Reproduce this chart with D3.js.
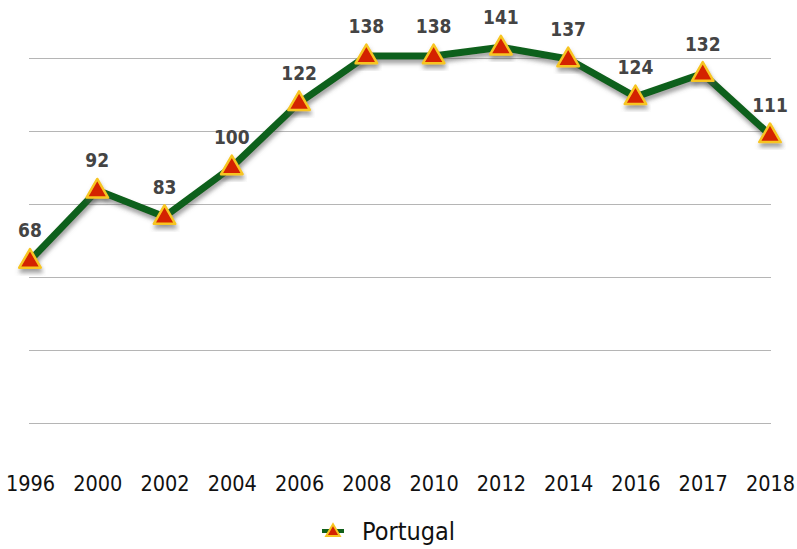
<!DOCTYPE html>
<html>
<head>
<meta charset="utf-8">
<script src="https://cdn.jsdelivr.net/npm/d3@7"></script>
<style>
  body { margin: 0; background: #fff; }
  svg { display: block; }
</style>
</head>
<body>
<script>
// data
const years = ["1996", "2000", "2002", "2004", "2006", "2008", "2010", "2012", "2014", "2016", "2017", "2018"];
const values = [68, 92, 83, 100, 122, 138, 138, 141, 137, 124, 132, 111];
const gridValues = [12.5, 37.5, 62.5, 87.5, 112.5, 137.5];
const seriesName = "Portugal";

const width = 797, height = 549;
const narrow = "'DejaVu Sans Condensed', 'DejaVu Sans', sans-serif";

const svg = d3.select("body").append("svg")
    .attr("width", width)
    .attr("height", height);

// shadow filter
const defs = svg.append("defs");
const f = defs.append("filter").attr("id", "shadow")
    .attr("x", "-20%").attr("y", "-20%").attr("width", "140%").attr("height", "160%");
f.append("feDropShadow")
    .attr("dx", 1).attr("dy", 4)
    .attr("stdDeviation", 2)
    .attr("flood-color", "#555")
    .attr("flood-opacity", 0.55);

// scales
let x = d3.scalePoint()
    .domain(years)
    .range([30, 770]);

let y = d3.scaleLinear()
    .domain([12.5, 137.5])
    .range([422.5, 57.5]);

// gridlines
svg.append("g")
    .selectAll("line")
    .data(gridValues)
    .join("line")
      .attr("x1", 29)
      .attr("x2", 771)
      .attr("y1", d => Math.round(y(d)) + 0.5)
      .attr("y2", d => Math.round(y(d)) + 0.5)
      .attr("stroke", "#b5b5b5")
      .attr("stroke-width", 1.2);

// x axis (labels only)
const xAxis = svg.append("g")
    .attr("transform", "translate(0,476)")
    .call(d3.axisBottom(x).tickSize(0).tickPadding(0));
xAxis.select(".domain").remove();
xAxis.selectAll("text")
    .attr("dy", "0.71em")
    .attr("fill", "#111")
    .style("font-family", narrow)
    .style("font-size", "21.5px");

const pts = years.map((yr, i) => ({year: yr, value: values[i]}));

// line
const line = d3.line()
    .x(d => x(d.year))
    .y(d => y(d.value));

svg.append("path")
    .datum(pts)
    .attr("d", line)
    .attr("fill", "none")
    .attr("stroke", "#11601a")
    .attr("stroke-width", 7)
    .attr("stroke-linejoin", "round")
    .attr("filter", "url(#shadow)");

// markers
const tri = d3.symbol().type(d3.symbolTriangle).size(200);
svg.append("g")
    .selectAll("path")
    .data(pts)
    .join("path")
      .attr("d", tri)
      .attr("transform", d => `translate(${x(d.year)},${y(d.value) + 1})`)
      .attr("fill", "#d42200")
      .attr("stroke", "#f7c520")
      .attr("stroke-width", 2.5)
      .attr("stroke-linejoin", "round")
      .attr("filter", "url(#shadow)");

// value labels
svg.append("g")
    .selectAll("text")
    .data(pts)
    .join("text")
      .attr("x", d => x(d.year))
      .attr("y", d => y(d.value) - 23)
      .attr("text-anchor", "middle")
      .attr("fill", "#444")
      .style("font-family", narrow)
      .style("font-weight", "bold")
      .style("font-size", "19px")
      .text(d => d.value);

// legend
const lg = svg.append("g").attr("transform", "translate(333,531)");
lg.append("line")
    .attr("x1", -11).attr("x2", 11)
    .attr("stroke", "#11601a")
    .attr("stroke-width", 4);
lg.append("path")
    .attr("d", d3.symbol().type(d3.symbolTriangle).size(80))
    .attr("transform", "translate(0,1)")
    .attr("fill", "#d42200")
    .attr("stroke", "#f7c520")
    .attr("stroke-width", 2);
lg.append("text")
    .attr("x", 29)
    .attr("y", 0)
    .attr("dy", "0.35em")
    .attr("fill", "#111")
    .style("font-family", narrow)
    .style("font-size", "25px")
    .text(seriesName);
</script>
</body>
</html>
